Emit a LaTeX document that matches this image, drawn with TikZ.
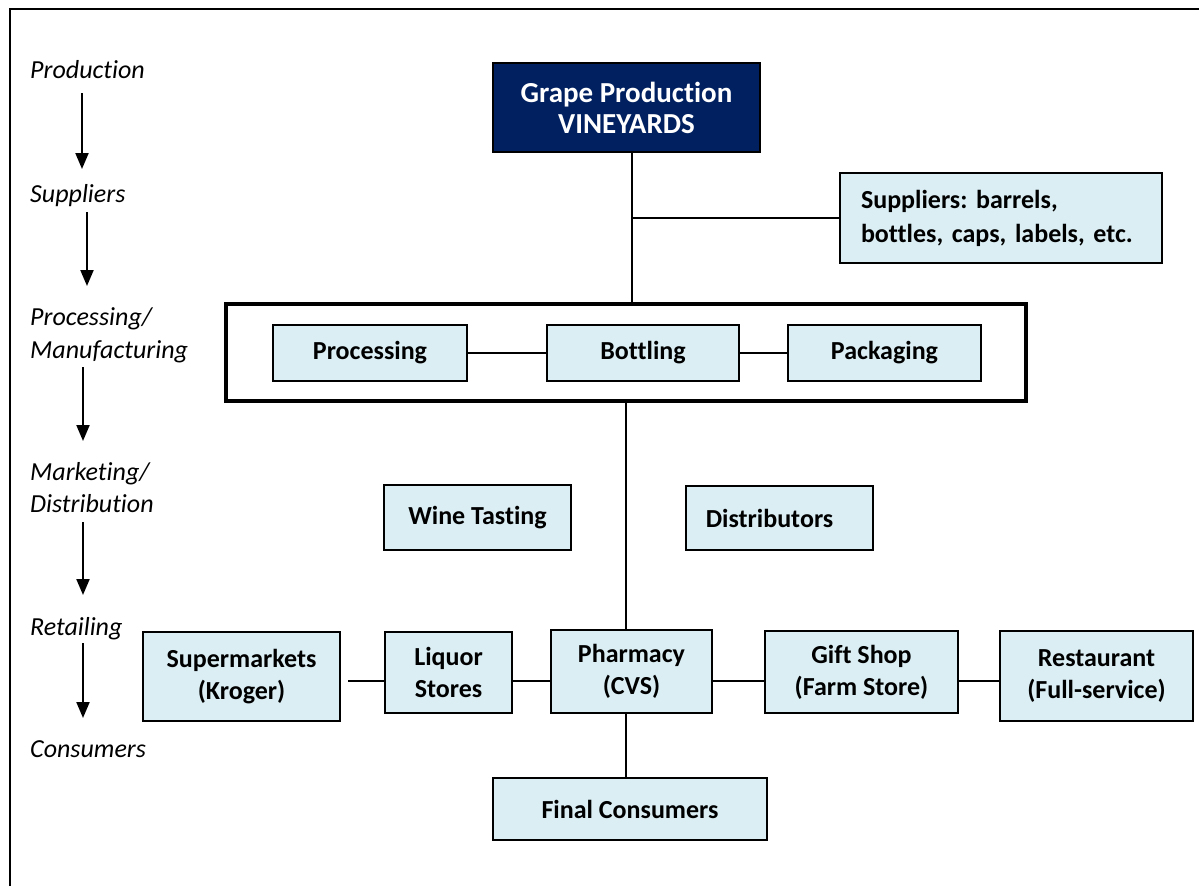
\documentclass[tikz,border=0pt]{standalone}
\usepackage{fontspec}
\setmainfont{Carlito}[RawFeature=-liga]
\frenchspacing
\usetikzlibrary{arrows.meta,calc}
\definecolor{navy}{HTML}{002060}
\definecolor{lblue}{HTML}{DAEEF3}
\begin{document}
\begin{tikzpicture}[x=1pt,y=-1pt,
  box/.style={draw=black,line width=2pt,fill=lblue,font=\fontsize{26}{32}\selectfont\bfseries,align=center,inner sep=0pt},
  lab/.style={anchor=base west,font=\fontsize{26}{32}\selectfont\itshape,inner sep=0pt,align=left},
  conn/.style={line width=2pt},
  flow/.style={line width=2pt,-{Triangle[width=13pt,length=16pt]}}]
\useasboundingbox (0,0) rectangle (1199,886);
% outer frame (top and left visible)
\draw[line width=2pt] (10,886) -- (10,9) -- (1199,9);
% left labels
\node[lab] (lprod) at (30,78) {Production};
\node[lab] (lsup) at (30,202) {Suppliers};
\node[lab] (lproc) at (30,325) {Processing/};
\node[lab] (lman) at (30,358) {Manufacturing};
\node[lab] (lmark) at (30,480) {Marketing/};
\node[lab] (ldist) at (30,512) {Distribution};
\node[lab] (lret) at (30,635) {Retailing};
\node[lab] (lcons) at (30,757) {Consumers};
\coordinate (a1s) at (82,93);  \coordinate (a1e) at (82,169);
\coordinate (a2s) at (87,212); \coordinate (a2e) at (87,286);
\coordinate (a3s) at (83,367); \coordinate (a3e) at (83,441);
\coordinate (a4s) at (83,522); \coordinate (a4e) at (83,595);
\coordinate (a5s) at (83,643); \coordinate (a5e) at (83,718);
\draw[flow] (a1s) -- (a1e);
\draw[flow] (a2s) -- (a2e);
\draw[flow] (a3s) -- (a3e);
\draw[flow] (a4s) -- (a4e);
\draw[flow] (a5s) -- (a5e);
% main boxes
\node[draw=black,line width=2pt,fill=navy,text=white,font=\fontsize{29}{31}\selectfont\bfseries,align=center,minimum width=267pt,minimum height=89pt,inner sep=0pt] (grape) at (626.5,107.5) {Grape Production\\VINEYARDS};
\node[box,align=left,text width=280pt,inner xsep=21pt,minimum height=90pt,font=\fontsize{26}{34}\selectfont\bfseries] (supp) at (1001,218) {Suppliers: barrels,\\bottles, caps, labels, etc.};
\node[draw=black,line width=4pt,minimum width=800pt,minimum height=97pt,inner sep=0pt] (frame) at (626,352.5) {};
\node[box,minimum width=194pt,minimum height=56pt] (proc) at (370,353) {Processing};
\node[box,minimum width=192pt,minimum height=56pt] (bott) at (643,353) {Bottling};
\node[box,minimum width=193pt,minimum height=56pt] (pack) at (884.5,353) {Packaging};
\node[box,minimum width=187pt,minimum height=65pt] (wine) at (477.5,517.5) {Wine Tasting};
\node[box,minimum width=187pt,minimum height=64pt] (dist) at (779.5,518) {Distributors\hspace*{20pt}};
\node[box,minimum width=197pt,minimum height=89pt] (super) at (241.5,676.5) {Supermarkets\\(Kroger)};
\node[box,minimum width=127pt,minimum height=81pt] (liq) at (448.5,672.5) {Liquor\\Stores};
\node[box,minimum width=161pt,minimum height=83pt] (pharm) at (631.5,671.5) {Pharmacy\\(CVS)};
\node[box,minimum width=193pt,minimum height=82pt] (gift) at (861.5,672) {Gift Shop\\(Farm Store)};
\node[box,minimum width=193pt,minimum height=90pt] (rest) at (1096.5,676) {Restaurant\\(Full-service)};
\node[box,minimum width=274pt,minimum height=62pt] (final) at (630,809) {Final Consumers};
% connectors
\coordinate (vx) at (632,0);
\coordinate (sj) at (632,218);
\draw[conn] (grape.south -| vx) -- (frame.north -| vx);
\draw[conn] (sj) -- (supp.west |- sj);
\draw[conn] (proc.east) -- (bott.west);
\draw[conn] (bott.east) -- (pack.west);
\coordinate (cx) at (626,0);
\draw[conn] (frame.south -| cx) -- (pharm.north -| cx);
\draw[conn] (pharm.south -| cx) -- (final.north -| cx);
\coordinate (ry) at (0,681);
\draw[conn] ([xshift=7pt]super.east |- ry) -- (liq.west |- ry);
\draw[conn] (liq.east |- ry) -- (pharm.west |- ry);
\draw[conn] (pharm.east |- ry) -- (gift.west |- ry);
\draw[conn] (gift.east |- ry) -- (rest.west |- ry);
\end{tikzpicture}
\end{document}
